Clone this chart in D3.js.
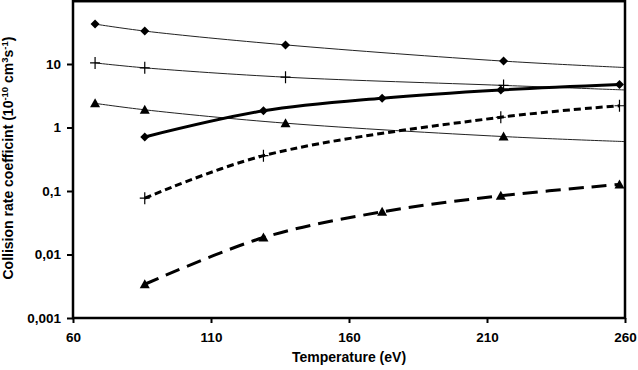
<!DOCTYPE html>
<html>
<head>
<meta charset="utf-8">
<script src="https://cdn.jsdelivr.net/npm/d3@7"></script>
<style>
  body { margin: 0; background: #fff; }
  svg text { font-family: "Liberation Sans", Arial, sans-serif; font-weight: bold; fill: #000; }
</style>
</head>
<body>
<div id="chart"></div>
<script>
// temperatures (eV) of the points
const thinTemps = [68, 86, 137, 216, 260];
const thickTemps = [86, 129, 172, 215, 258];
const plusDashedTemps = [86, 129, 215, 258];

// thin lines (upper group)
const diamondThin = [42.5, 33, 20, 11.1, 8.8];
const plusThin = [10.4, 8.7, 6.2, 4.6, 3.9];
const triangleThin = [2.4, 1.9, 1.17, 0.72, 0.6];

// thick lines (lower group)
const diamondThick = [0.71, 1.83, 2.9, 3.9, 4.75];
const plusDashed = [0.077, 0.36, 1.45, 2.2];
const triangleDashed = [0.0034, 0.0185, 0.047, 0.084, 0.127];

const xTicks = [60, 110, 160, 210, 260];
const yTicks = [0.001, 0.01, 0.1, 1, 10];
const yTickLabels = ["0,001", "0,01", "0,1", "1", "10"];

const W = 638, H = 370;
const pLeft = 73, pRight = 625, pTop = 0.5, pBottom = 318;

const svg = d3.select("#chart").append("svg")
    .attr("width", W).attr("height", H);

const x = d3.scaleLinear().domain([60, 260]).range([pLeft, pRight]);
const y = d3.scaleLog().domain([0.001, 100]).range([pBottom, pTop]);

// series: temps, values, marker and line style
const series = [
  { t: thinTemps, v: diamondThin, marker: "diamond", width: 1, dash: null, color: "#222", markLast: false },
  { t: thinTemps, v: plusThin, marker: "plus", width: 1, dash: null, color: "#222", markLast: false },
  { t: thinTemps, v: triangleThin, marker: "triangle", width: 1, dash: null, color: "#222", markLast: false },
  { t: thickTemps, v: diamondThick, marker: "diamond", width: 3, dash: null, color: "#000", markLast: true },
  { t: plusDashedTemps, v: plusDashed, marker: "plus", width: 3, dash: "7,4", color: "#000", markLast: true },
  { t: thickTemps, v: triangleDashed, marker: "triangle", width: 3, dash: "15,8", color: "#000", markLast: true }
];

const line = d3.line()
    .x(d => x(d[0]))
    .y(d => y(d[1]))
    .curve(d3.curveCatmullRom.alpha(0.5));

svg.append("clipPath").attr("id", "plotclip")
  .append("rect").attr("x", pLeft).attr("y", pTop).attr("width", pRight - pLeft).attr("height", pBottom - pTop);

const plot = svg.append("g").attr("clip-path", "url(#plotclip)");

series.forEach(s => {
  const pts = s.t.map((t, i) => [t, s.v[i]]);
  plot.append("path")
      .attr("d", line(pts))
      .attr("fill", "none")
      .attr("stroke", s.color)
      .attr("stroke-width", s.width)
      .attr("stroke-dasharray", s.dash);

  const marked = s.markLast ? pts : pts.slice(0, -1);
  marked.forEach(p => {
    const cx = x(p[0]), cy = y(p[1]);
    if (s.marker === "diamond") {
      svg.append("path")
        .attr("d", `M${cx},${cy - 4.5}L${cx + 4.5},${cy}L${cx},${cy + 4.5}L${cx - 4.5},${cy}Z`)
        .attr("fill", "#000");
    } else if (s.marker === "triangle") {
      svg.append("path")
        .attr("d", `M${cx},${cy - 5}L${cx + 5},${cy + 4}L${cx - 5},${cy + 4}Z`)
        .attr("fill", "#000");
    } else {
      svg.append("path")
        .attr("d", `M${cx - 5},${cy}H${cx + 5}M${cx},${cy - 6}V${cy + 6}`)
        .attr("stroke", "#000").attr("stroke-width", 1.2);
    }
  });
});

// frame
svg.append("rect")
    .attr("x", pLeft).attr("y", pTop + 0.7)
    .attr("width", pRight - pLeft).attr("height", pBottom - pTop - 0.7)
    .attr("fill", "none").attr("stroke", "#000").attr("stroke-width", 2.5);

// axes
const xAxis = d3.axisBottom(x).tickValues(xTicks).tickSize(5).tickPadding(9).tickFormat(d3.format("d"));
const gx = svg.append("g").attr("transform", `translate(0,${pBottom})`).call(xAxis);
gx.select(".domain").remove();
gx.selectAll(".tick line").attr("stroke", "#000").attr("stroke-width", 2);
gx.selectAll(".tick text").style("font-size", "13.5px");

const yAxis = d3.axisLeft(y).tickValues(yTicks).tickSize(6).tickPadding(6)
    .tickFormat((d, i) => yTickLabels[i]);
const gy = svg.append("g").attr("transform", `translate(${pLeft},0)`).call(yAxis);
gy.select(".domain").remove();
gy.selectAll(".tick line").attr("stroke", "#000").attr("stroke-width", 2);
gy.selectAll(".tick text").style("font-size", "13.5px");

// axis titles
svg.append("text")
    .attr("x", (pLeft + pRight) / 2).attr("y", 362)
    .attr("text-anchor", "middle")
    .style("font-size", "14px")
    .text("Temperature (eV)");

const yt = svg.append("text")
    .attr("transform", "translate(13,158) rotate(-90)")
    .attr("text-anchor", "middle")
    .style("font-size", "14px");
yt.append("tspan").text("Collision rate coefficint (10");
yt.append("tspan").attr("dy", -5).style("font-size", "9.5px").text("-10");
yt.append("tspan").attr("dy", 5).text(" cm");
yt.append("tspan").attr("dy", -5).style("font-size", "9.5px").text("3");
yt.append("tspan").attr("dy", 5).text("s");
yt.append("tspan").attr("dy", -5).style("font-size", "9.5px").text("-1");
yt.append("tspan").attr("dy", 5).text(")");
</script>
</body>
</html>
